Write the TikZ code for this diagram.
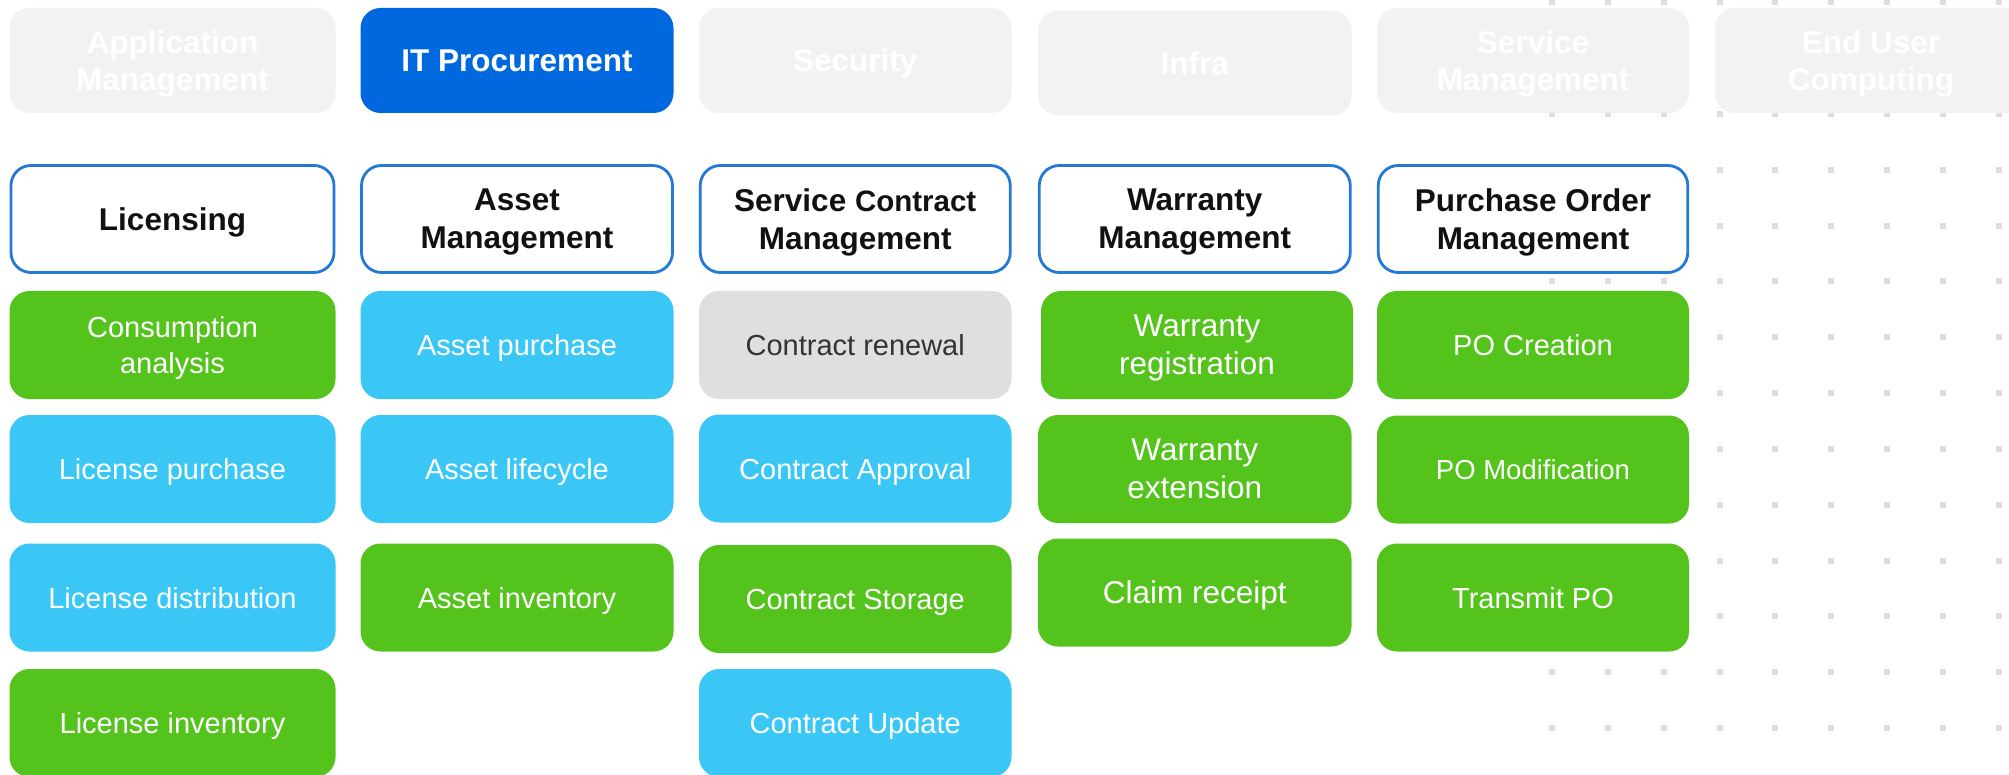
\documentclass[tikz,border=0pt]{standalone}
\usepackage{fontspec}
\setmainfont{Liberation Sans}
\definecolor{cgreen}{RGB}{84,196,29}
\definecolor{cblue}{RGB}{59,199,245}
\definecolor{cgrey}{RGB}{222,223,223}
\definecolor{topgrey}{RGB}{242,242,242}
\definecolor{topblue}{RGB}{0,104,222}
\definecolor{hborder}{RGB}{36,121,214}
\definecolor{dotc}{RGB}{221,221,221}
\definecolor{htext}{RGB}{17,17,17}
\definecolor{gtext}{RGB}{51,51,51}
\begin{document}
\begin{tikzpicture}[x=1pt,y=-1pt,
  box/.style={rounded corners=20pt, inner sep=0pt, align=center, anchor=center, text depth=0pt},
  topbox/.style={box, fill=topgrey, text=white, font=\bfseries\fontsize{31.5}{37.8}\selectfont, minimum height=105pt},
  topactive/.style={topbox, fill=topblue},
  headbox/.style={box, draw=hborder, line width=2.8pt, fill=white, text=htext, font=\bfseries\fontsize{31.5}{37.8}\selectfont, minimum height=107pt},
  itembox/.style={box, text=white, font=\fontsize{29}{35.5}\selectfont, minimum height=108pt},
  gbox/.style={itembox, fill=cgreen},
  bbox/.style={itembox, fill=cblue},
  greybox/.style={itembox, fill=cgrey, text=gtext},
  bigtext/.style={font=\fontsize{31.5}{37.8}\selectfont}
]
\useasboundingbox (0,0) rectangle (2009,775);
\clip (0,0) rectangle (2009,775);
\fill[white] (0,0) rectangle (2009,775);
% dot grid
\foreach \i in {0,...,8}{
  \foreach \j in {0,...,13}{
    \fill[dotc] ({1552+55.85*\i-3},{2.5+55.8*\j-3}) rectangle ++(6,6);
  }
}
% top row
\node[topbox, minimum width=326pt] (tApp) at (172.5,60.5) {Application\\Management};
\node[topactive, minimum width=313pt] (tIT) at (517,60.5) {IT Procurement};
\node[topbox, minimum width=312.5pt] (tSec) at (855.25,60.5) {Security};
\node[topbox, minimum width=313.5pt] (tInfra) at (1194.75,63) {Infra};
\node[topbox, minimum width=312pt] (tSvc) at (1533,60.5) {Service\\Management};
\node[topbox, minimum width=312pt] (tEUC) at (1871,60.5) {End User\\Computing};
% headers
\node[headbox, minimum width=323pt] (hLic) at (172.5,219) {Licensing};
\node[headbox, minimum width=311pt] (hAsset) at (517,219) {Asset\\Management};
\node[headbox, minimum width=310pt] (hSCM) at (855.25,219) {Service {\fontsize{29.5}{37.8}\selectfont Contract}\\Management};
\node[headbox, minimum width=311pt] (hWar) at (1194.75,219) {Warranty\\Management};
\node[headbox, minimum width=309.5pt] (hPO) at (1533,219) {Purchase Order\\Management};
% Licensing column
\node[gbox, minimum width=326pt] (l1) at (172.5,345) {Consumption\\analysis};
\node[bbox, minimum width=326pt] (l2) at (172.5,469) {License purchase};
\node[bbox, minimum width=326pt] (l3) at (172.5,597.5) {License distribution};
\node[gbox, minimum width=326pt] (l4) at (172.5,723) {License inventory};
% Asset column
\node[bbox, minimum width=313pt] (a1) at (517,345) {Asset purchase};
\node[bbox, minimum width=313pt] (a2) at (517,469) {Asset lifecycle};
\node[gbox, minimum width=313pt] (a3) at (517,597.5) {Asset inventory};
% Service contract column
\node[greybox, minimum width=312.5pt] (s1) at (855.25,345) {Contract renewal};
\node[bbox, minimum width=312.5pt] (s2) at (855.25,468.5) {Contract Approval};
\node[gbox, minimum width=312.5pt] (s3) at (855.25,599) {Contract Storage};
\node[bbox, minimum width=312.5pt] (s4) at (855.25,723) {Contract Update};
% Warranty column
\node[gbox, bigtext, minimum width=312pt] (w1) at (1197,345) {Warranty\\registration};
\node[gbox, bigtext, minimum width=313.5pt] (w2) at (1194.75,469) {Warranty\\extension};
\node[gbox, bigtext, minimum width=313.5pt] (w3) at (1194.75,592.5) {Claim receipt};
% PO column
\node[gbox, minimum width=312pt] (p1) at (1533,345) {PO Creation};
\node[gbox, minimum width=312pt, font=\fontsize{27.5}{33}\selectfont] (p2) at (1533,469.5) {PO Modification};
\node[gbox, minimum width=312pt] (p3) at (1533,597.5) {Transmit PO};
\end{tikzpicture}
\end{document}
